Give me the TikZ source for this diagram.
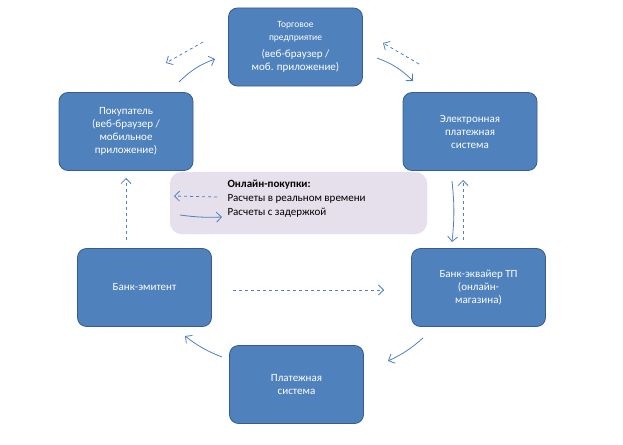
\documentclass[tikz,border=0pt]{standalone}
\usepackage{fontspec}
\setmainfont{Carlito}
\usetikzlibrary{arrows.meta}
\definecolor{boxfill}{RGB}{79,129,189}
\definecolor{boxline}{RGB}{56,93,138}
\definecolor{legfill}{RGB}{229,224,236}

\tikzset{
  blk/.style={draw=boxline, fill=boxfill, rounded corners=9pt, text=white, align=center, minimum width=134pt, minimum height=78pt, line width=0.8pt},
  real/.style={-{Straight Barb[length=5pt]}, draw=boxfill, line width=0.8pt},
  delay/.style={real, dashed},
}
\newcommand{\smalltxt}{\fontsize{9.5}{12}\selectfont}
\newcommand{\normtxt}{\fontsize{11}{13}\selectfont}

\begin{document}
\begin{tikzpicture}[x=1pt,y=-1pt, font=\fontsize{11}{13}\selectfont]
\useasboundingbox (0,0) rectangle (623,444);

\node[blk] (shop) at (295.5,47) {\smalltxt Торговое\\\smalltxt предприятие\\[4pt]\normtxt (веб-браузер /\\\normtxt моб. приложение)};
\node[blk] (eps) at (470,131.5) {Электронная\\платежная\\система};
\node[blk] (acq) at (478.5,287.5) {Банк-эквайер ТП\\(онлайн-\\магазина)};
\node[blk] (pay) at (296.5,384.5) {Платежная\\система};
\node[blk] (iss) at (144.5,287.5) {Банк-эмитент};
\node[blk] (buyer) at (126,131.5) {Покупатель\\(веб-браузер /\\мобильное\\приложение)};

\node[draw=legfill, fill=legfill, rounded corners=12pt, minimum width=257pt, minimum height=62pt] (legend) at (298.5,203) {};
\node[anchor=north west, align=left, font=\fontsize{11}{14}\selectfont] (legtxt) at (224,176) {\textbf{Онлайн-покупки:}\\Расчеты в реальном времени\\Расчеты с задержкой};

% legend samples
\coordinate (l1a) at (217,197); \coordinate (l1b) at (174,196);
\coordinate (l2a) at (180,215); \coordinate (l2b) at (222,217);
\draw[delay] (l1a) -- (l1b);
\draw[real] (l2a) to[bend right=5] (l2b);

% cycle
\coordinate (a1) at (179,82);  \coordinate (a2) at (215,59);
\coordinate (b1) at (377,58);  \coordinate (b2) at (413,81);
\coordinate (c1) at (452,181); \coordinate (c2) at (452,242);
\coordinate (d1) at (423,338); \coordinate (d2) at (388,361);
\coordinate (e1) at (222,357); \coordinate (e2) at (185,336);
\coordinate (f1) at (126,240); \coordinate (f2) at (126,178);
\draw[real] (a1) to[bend left=12] (a2);
\draw[real] (b1) to[bend left=12] (b2);
\draw[real] (c1) to[bend left=6] (c2);
\draw[real] (d1) to[bend left=8] (d2);
\draw[real] (e1) to[bend left=8] (e2);
\draw[delay] (f1) -- (f2);

% delayed
\coordinate (g1) at (203,42); \coordinate (g2) at (166,63);
\coordinate (h1) at (419,64); \coordinate (h2) at (383,43);
\coordinate (k1) at (463,240); \coordinate (k2) at (463,180);
\coordinate (m1) at (233,290); \coordinate (m2) at (384,290);
\draw[delay] (g1) -- (g2);
\draw[delay] (h1) -- (h2);
\draw[delay] (k1) -- (k2);
\draw[delay] (m1) -- (m2);
\end{tikzpicture}
\end{document}
